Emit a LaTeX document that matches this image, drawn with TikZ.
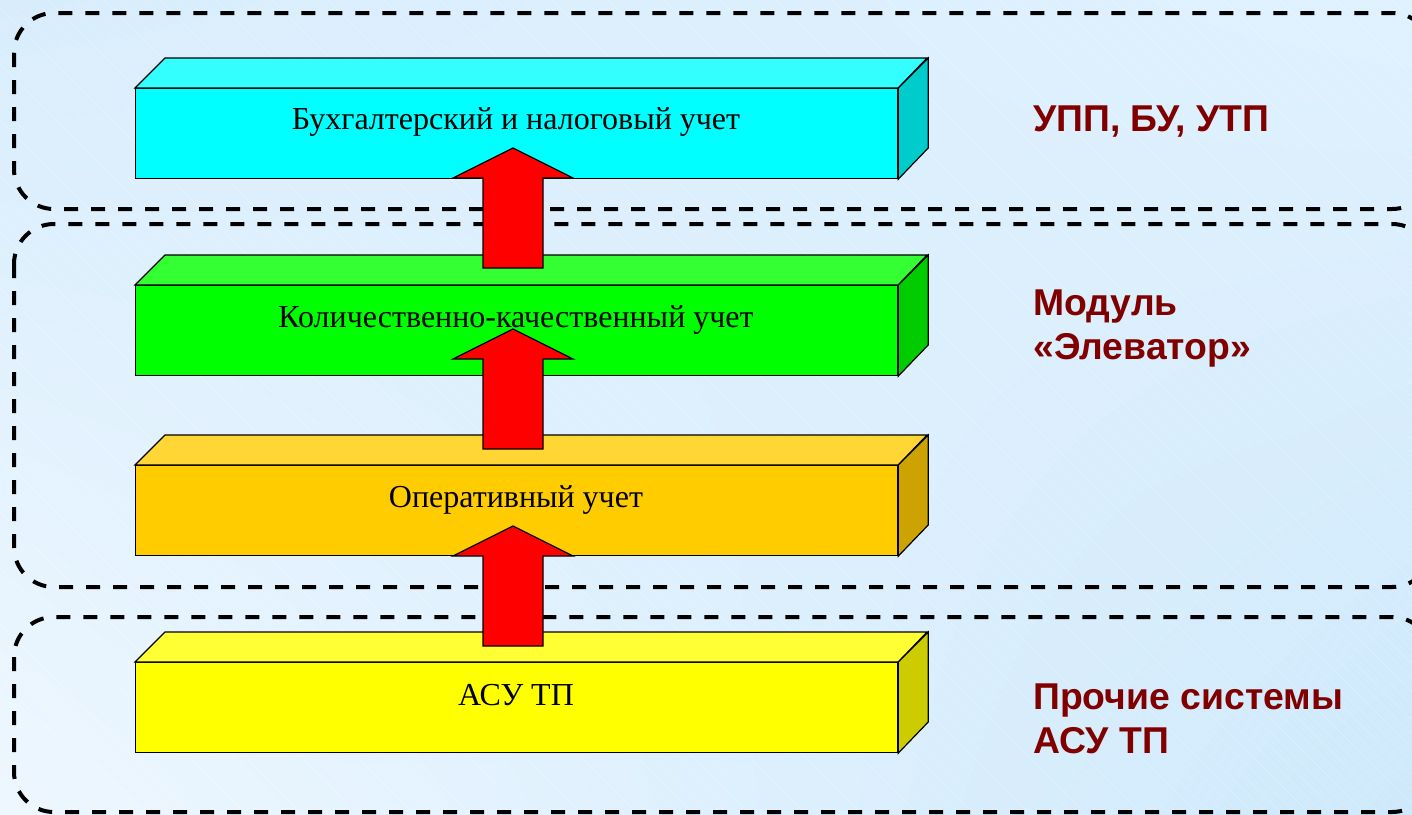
\documentclass[tikz,border=0pt]{standalone}
\usepackage{fontspec}
\usetikzlibrary{shadings}
\setmainfont{Liberation Serif}
\newfontfamily\lsans{Liberation Sans}
\definecolor{bgTL}{RGB}{216,237,252}
\definecolor{bgTR}{RGB}{224,241,254}
\definecolor{bgBL}{RGB}{238,247,255}
\definecolor{bgBR}{RGB}{206,233,251}
\definecolor{cyF}{RGB}{0,255,255}
\definecolor{cyT}{RGB}{51,255,255}
\definecolor{cyS}{RGB}{0,204,204}
\definecolor{grF}{RGB}{0,255,0}
\definecolor{grT}{RGB}{51,255,51}
\definecolor{grS}{RGB}{0,204,0}
\definecolor{orF}{RGB}{255,204,0}
\definecolor{orT}{RGB}{255,214,51}
\definecolor{orS}{RGB}{204,163,0}
\definecolor{yeF}{RGB}{255,255,0}
\definecolor{yeT}{RGB}{255,255,51}
\definecolor{yeS}{RGB}{204,204,0}
\definecolor{lbl}{RGB}{128,0,0}
\definecolor{arrred}{RGB}{255,0,0}
\newcommand{\uparr}[1]{%
  \draw[blockarr] (483,#1+120) -- (483,#1+30) -- (453,#1+30) -- (513,#1) -- (573,#1+30) -- (543,#1+30) -- (543,#1+120) -- cycle;}
\begin{document}
\begin{tikzpicture}[x=0.75pt,y=-0.75pt,
  grp/.style={draw=black,line width=3pt,dash pattern=on 10.5pt off 9.75pt,rounded corners=30pt},
  face/.style={draw=black,line width=0.9pt,line join=miter},
  front/.style={face,minimum width=571.5pt,minimum height=67.5pt,inner sep=0pt,anchor=north west},
  boxlabel/.style={font=\fontsize{24}{28}\selectfont,inner sep=0pt},
  sidelabel/.style={font=\lsans\bfseries\fontsize{28}{33}\selectfont,text=lbl,align=left,inner sep=0pt,anchor=north west},
  blockarr/.style={draw=black,line width=0.9pt,fill=arrred,line join=miter}]
\useasboundingbox (0,0) rectangle (1412,814);
\shade[upper left=bgTL,upper right=bgTR,lower left=bgBL,lower right=bgBR] (0,0) rectangle (1412,814);
\begin{scope}
\clip (0,0) rectangle (1412,814);
\foreach \i in {-820,-806,...,1420}
  \draw[white,opacity=0.25,line width=0.4pt] (\i,0) -- (\i+814,814);
\end{scope}
% group frames
\draw[grp] (14,13) rectangle (1432,209);
\draw[grp] (14,224) rectangle (1432,587);
\draw[grp] (14,617) rectangle (1432,812);
% boxes
\node[front,fill=cyF] (b1) at (135,88) {};
\filldraw[face,fill=cyT] (b1.north west) -- ++(30,-30) -- ++(762,0) -- (b1.north east) -- cycle;
\filldraw[face,fill=cyS] (b1.north east) -- ++(30,-30) -- ++(0,90) -- (b1.south east) -- cycle;
\node[boxlabel] (t1) at (516,122) {Бухгалтерский и налоговый учет};
\node[front,fill=grF] (b2) at (135,285) {};
\filldraw[face,fill=grT] (b2.north west) -- ++(30,-30) -- ++(762,0) -- (b2.north east) -- cycle;
\filldraw[face,fill=grS] (b2.north east) -- ++(30,-30) -- ++(0,90) -- (b2.south east) -- cycle;
\node[boxlabel] (t2) at (516,320) {Количественно-качественный учет};
\node[front,fill=orF] (b3) at (135,465) {};
\filldraw[face,fill=orT] (b3.north west) -- ++(30,-30) -- ++(762,0) -- (b3.north east) -- cycle;
\filldraw[face,fill=orS] (b3.north east) -- ++(30,-30) -- ++(0,90) -- (b3.south east) -- cycle;
\node[boxlabel] (t3) at (516,500) {Оперативный учет};
\node[front,fill=yeF] (b4) at (135,662) {};
\filldraw[face,fill=yeT] (b4.north west) -- ++(30,-30) -- ++(762,0) -- (b4.north east) -- cycle;
\filldraw[face,fill=yeS] (b4.north east) -- ++(30,-30) -- ++(0,90) -- (b4.south east) -- cycle;
\node[boxlabel] (t4) at (516,695) {АСУ ТП};
% block arrows
\uparr{148}
\uparr{329}
\uparr{526}
% side labels
\node[sidelabel] (l1) at (1033,106) {УПП, БУ, УТП};
\node[sidelabel] (l2) at (1033,290) {Модуль\\«Элеватор»};
\node[sidelabel] (l3) at (1033,684) {Прочие системы\\АСУ ТП};
\end{tikzpicture}
\end{document}
